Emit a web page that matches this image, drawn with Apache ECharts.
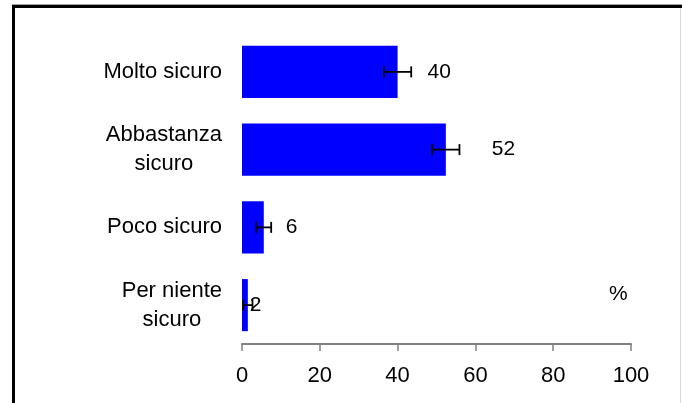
<!DOCTYPE html>
<html>
<head>
<meta charset="utf-8">
<style>
  html, body { margin: 0; padding: 0; background: #fff; }
  #chart { width: 682px; height: 403px; }
</style>
<script src="https://cdn.jsdelivr.net/npm/echarts@6/dist/echarts.min.js"></script>
</head>
<body>
<div id="chart"></div>
<script>
// Survey answers, percent of respondents
const categories = ['Molto sicuro', 'Abbastanza\nsicuro', 'Poco sicuro', 'Per niente\nsicuro'];
const percent = [40, 52.4, 5.6, 1.5];
// half-width of the confidence interval for each answer (percentage points)
const errorMargin = [3.5, 3.5, 1.9, 1.2];
const xTicks = [0, 20, 40, 60, 80, 100];

// distance of each value label from its bar end
const labelGap = [30, 46, 22, 2];

const FONT = '"Liberation Sans", Arial, sans-serif';

const chart = echarts.init(document.getElementById('chart'), null, { renderer: 'canvas' });

const barData = percent.map((v, i) => ({
  value: v,
  label: { distance: labelGap[i] }
}));

const errData = percent.map((v, i) => [v - errorMargin[i], v + errorMargin[i], i]);

chart.setOption({
  animation: false,
  backgroundColor: '#ffffff',
  grid: { left: 242, right: 51, top: 33, bottom: 59 },
  xAxis: {
    type: 'value',
    min: xTicks[0],
    max: xTicks[xTicks.length - 1],
    interval: xTicks[1] - xTicks[0],
    splitLine: { show: false },
    axisLine: { show: true, lineStyle: { color: '#808080', width: 2 } },
    axisTick: { show: true, length: 7, lineStyle: { color: '#808080', width: 1.5 } },
    axisLabel: { color: '#000', fontFamily: FONT, fontSize: 22, margin: 21 }
  },
  yAxis: {
    type: 'category',
    inverse: true,
    data: categories,
    axisLine: { show: false },
    axisTick: { show: false },
    axisLabel: {
      margin: 20,
      formatter: (s) => s.split('\n').map(t => '{c|' + t + '}').join('\n'),
      rich: {
        c: { align: 'center', color: '#000', fontFamily: FONT, fontSize: 22, lineHeight: 29 }
      }
    }
  },
  series: [
    {
      type: 'bar',
      data: barData,
      barCategoryGap: '33%',
      itemStyle: { color: '#0000ff' },
      label: {
        show: true,
        position: 'right',
        color: '#000',
        fontFamily: FONT,
        fontSize: 21,
        formatter: (p) => String(Math.round(p.value))
      },
      z: 2
    },
    {
      type: 'custom',
      data: errData,
      encode: { x: [0, 1], y: 2 },
      z: 3,
      renderItem: (params, api) => {
        const lo = api.coord([api.value(0), api.value(2)]);
        const hi = api.coord([api.value(1), api.value(2)]);
        const h = 5.5;
        const style = { stroke: '#000', lineWidth: 1.8 };
        return {
          type: 'group',
          children: [
            { type: 'line', shape: { x1: lo[0], y1: lo[1], x2: hi[0], y2: hi[1] }, style },
            { type: 'line', shape: { x1: lo[0], y1: lo[1] - h, x2: lo[0], y2: lo[1] + h }, style },
            { type: 'line', shape: { x1: hi[0], y1: hi[1] - h, x2: hi[0], y2: hi[1] + h }, style }
          ]
        };
      }
    }
  ],
  graphic: [
    { type: 'text', left: 609, top: 284, style: { text: '%', fill: '#000', font: '21px ' + FONT } },
    // frame around the plot
    { type: 'rect', shape: { x: 12, y: 4, width: 670, height: 1 }, style: { fill: '#a0a0a0' } },
    { type: 'rect', shape: { x: 12, y: 5, width: 670, height: 3 }, style: { fill: '#000' } },
    { type: 'rect', shape: { x: 12, y: 5, width: 3, height: 398 }, style: { fill: '#000' } },
    { type: 'rect', shape: { x: 680, y: 8, width: 1, height: 395 }, style: { fill: '#d8d8d8' } }
  ]
});
</script>
</body>
</html>
